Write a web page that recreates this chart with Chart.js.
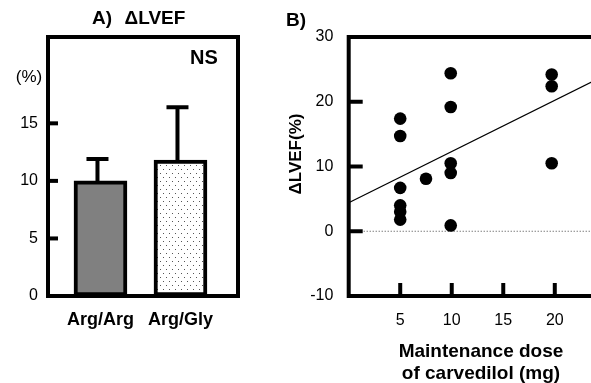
<!DOCTYPE html>
<html>
<head>
<meta charset="utf-8">
<script src="https://cdn.jsdelivr.net/npm/chart.js@4.4.0/dist/chart.umd.min.js"></script>
<style>
html, body { margin: 0; padding: 0; background: #fff; overflow: hidden; width: 591px; height: 383px; }
#wrapA { position: absolute; left: 0; top: 0; width: 250px; height: 383px; }
#wrapB { position: absolute; left: 250px; top: 0; width: 360px; height: 383px; }
</style>
</head>
<body>
<div id="wrapA"><canvas id="chartA" width="250" height="383"></canvas></div>
<div id="wrapB"><canvas id="chartB" width="360" height="383"></canvas></div>
<script>
// --- Panel A: ΔLVEF por genotipo ---
const genotypes = ['Arg/Arg', 'Arg/Gly'];
const genoPos = [1, 2];
const lvefMean = [10, 11.8];
const lvefSD = [1.9, 4.6];
const yTicksA = [0, 5, 10, 15];

// --- Panel B: ΔLVEF vs dosis ---
const doseMg = [5, 5, 5, 5, 5, 5, 7.5, 9.9, 9.9, 9.9, 9.9, 9.9, 19.7, 19.7, 19.7];
const deltaLvef = [17.4, 14.7, 6.7, 4.0, 3.0, 1.8, 8.1, 24.4, 19.2, 10.5, 9.0, 0.9, 24.2, 22.4, 10.5];
const fitX = [0, 24];
const fitY = [4.4, 23.4];
const zeroX = [0, 24];
const zeroY = [0, 0];
const xTicksB = [5, 10, 15, 20];
const yTicksB = [-10, 0, 10, 20, 30];

const FAMILY = "'Liberation Sans', Arial, sans-serif";

function txt(ctx, s, x, y, size, bold, rot) {
    ctx.save();
    ctx.translate(x, y);
    if (rot) ctx.rotate(rot);
    ctx.font = (bold ? 'bold ' : '') + size + 'px ' + FAMILY;
    ctx.fillStyle = '#000';
    ctx.textAlign = 'center';
    ctx.textBaseline = 'middle';
    ctx.fillText(s, 0, 0);
    ctx.restore();
}

function dotPattern(ctx) {
    const tile = document.createElement('canvas');
    tile.width = 6; tile.height = 8;
    const g = tile.getContext('2d');
    g.fillStyle = '#fff'; g.fillRect(0, 0, 6, 8);
    g.fillStyle = '#555';
    g.fillRect(1, 1, 1, 1);
    g.fillRect(4, 5, 1, 1);
    return ctx.createPattern(tile, 'repeat');
}

const frameA = {
    id: 'frameA',
    afterDatasetsDraw(chart) {
        const { ctx, chartArea: a, scales: { x, y } } = chart;
        ctx.save();
        ctx.strokeStyle = '#000';
        ctx.lineWidth = 4;
        // barras de error (solo hacia arriba)
        lvefMean.forEach((m, i) => {
            const px = x.getPixelForValue(genoPos[i]) - 3;
            const top = y.getPixelForValue(m + lvefSD[i]);
            ctx.beginPath();
            ctx.moveTo(px, y.getPixelForValue(m));
            ctx.lineTo(px, top);
            ctx.moveTo(px - 11, top);
            ctx.lineTo(px + 11, top);
            ctx.stroke();
        });
        ctx.strokeRect(a.left, a.top, a.right - a.left, a.bottom - a.top);
        yTicksA.forEach(v => {
            const py = y.getPixelForValue(v);
            ctx.beginPath();
            ctx.moveTo(a.left, py);
            ctx.lineTo(a.left + 10, py);
            ctx.stroke();
        });
        ctx.restore();
        txt(ctx, 'A)', 102, 19, 19, true);
        txt(ctx, '\u0394LVEF', 155, 19, 19, true);
        txt(ctx, 'NS', 204, 58, 20, true);
        txt(ctx, '(%)', 29, 77, 17, false);
    }
};

const frameB = {
    id: 'frameB',
    afterDatasetsDraw(chart) {
        const { ctx, chartArea: a, scales: { x, y } } = chart;
        ctx.save();
        ctx.strokeStyle = '#000';
        ctx.lineWidth = 4;
        ctx.strokeRect(a.left, a.top, a.right - a.left, a.bottom - a.top);
        xTicksB.forEach(v => {
            const px = x.getPixelForValue(v);
            ctx.beginPath();
            ctx.moveTo(px, a.bottom);
            ctx.lineTo(px, a.bottom - 13);
            ctx.stroke();
        });
        yTicksB.forEach(v => {
            const py = y.getPixelForValue(v);
            ctx.beginPath();
            ctx.moveTo(a.left, py);
            ctx.lineTo(a.left + 14, py);
            ctx.stroke();
        });
        ctx.restore();
        txt(ctx, 'B)', 46, 21, 19, true);
        txt(ctx, '\u0394LVEF(%)', 46, 154, 17, true, -Math.PI / 2);
        txt(ctx, 'Maintenance dose', 231, 352, 19, true);
        txt(ctx, 'of carvedilol (mg)', 231, 374, 19, true);
    }
};

const ctxA = document.getElementById('chartA').getContext('2d');

new Chart(ctxA, {
    type: 'bar',
    data: {
        datasets: [{
            data: genoPos.map((p, i) => ({ x: p, y: lvefMean[i] })),
            backgroundColor: ['#808080', dotPattern(ctxA)],
            borderColor: '#000',
            borderWidth: 4,
            borderSkipped: false,
            barThickness: 53
        }]
    },
    options: {
        responsive: false,
        animation: false,
        events: [],
        layout: { padding: { left: 0, right: 12, top: 37, bottom: 0 } },
        plugins: { legend: { display: false }, tooltip: { enabled: false } },
        scales: {
            x: {
                type: 'linear', min: 0.344, max: 2.719, offset: false,
                grid: { display: false, offset: false, drawTicks: false }, border: { display: false },
                afterBuildTicks: s => { s.ticks = genoPos.map(v => ({ value: v })); },
                afterFit: s => { s.height = 87; },
                ticks: {
                    callback: v => genotypes[genoPos.indexOf(v)],
                    font: { size: 18, weight: 'bold', family: FAMILY },
                    color: '#000', padding: 13, maxRotation: 0, autoSkip: false
                }
            },
            y: {
                min: 0, max: 22.5,
                grid: { display: false, drawTicks: false }, border: { display: false },
                afterBuildTicks: s => { s.ticks = yTicksA.map(v => ({ value: v })); },
                afterFit: s => { s.width = 48; },
                ticks: { font: { size: 16, family: FAMILY }, color: '#000', padding: 10 }
            }
        }
    },
    plugins: [frameA]
});

new Chart(document.getElementById('chartB'), {
    type: 'scatter',
    data: {
        datasets: [
            {
                data: doseMg.map((d, i) => ({ x: d, y: deltaLvef[i] })),
                pointRadius: 6.3, pointBackgroundColor: '#000', pointBorderWidth: 0
            },
            {
                type: 'line',
                data: fitX.map((d, i) => ({ x: d, y: fitY[i] })),
                borderColor: '#000', borderWidth: 1.3, pointRadius: 0
            },
            {
                type: 'line',
                data: zeroX.map((d, i) => ({ x: d, y: zeroY[i] })),
                borderColor: '#444', borderWidth: 1, borderDash: [1, 2], pointRadius: 0
            }
        ]
    },
    options: {
        responsive: false,
        animation: false,
        events: [],
        layout: { padding: { left: 0, right: 14, top: 37, bottom: 0 } },
        plugins: { legend: { display: false }, tooltip: { enabled: false } },
        scales: {
            x: {
                type: 'linear', min: 0, max: 24,
                grid: { display: false, drawTicks: false }, border: { display: false },
                afterBuildTicks: s => { s.ticks = xTicksB.map(v => ({ value: v })); },
                afterFit: s => { s.height = 87; },
                ticks: { font: { size: 16, family: FAMILY }, color: '#000', padding: 14.5, maxRotation: 0 }
            },
            y: {
                min: -10, max: 30,
                grid: { display: false, drawTicks: false }, border: { display: false },
                afterBuildTicks: s => { s.ticks = yTicksB.map(v => ({ value: v })); },
                afterFit: s => { s.width = 98.7; },
                ticks: { font: { size: 16, family: FAMILY }, color: '#000', padding: 15.4 }
            }
        }
    },
    plugins: [frameB]
});
</script>
</body>
</html>
